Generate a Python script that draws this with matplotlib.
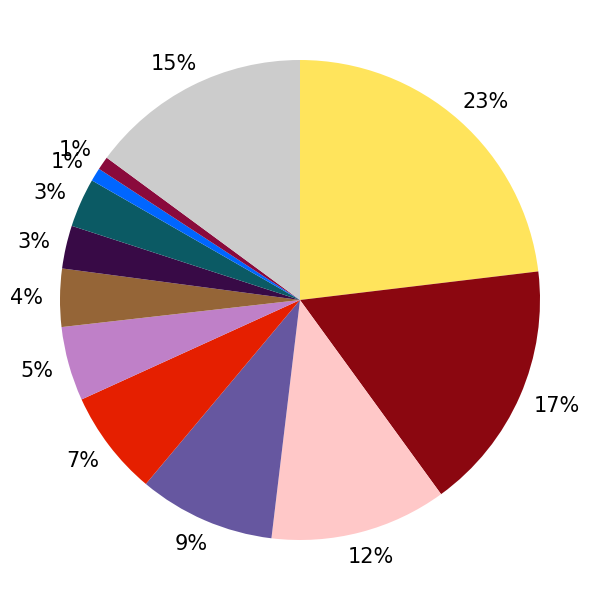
import matplotlib
matplotlib.use("Agg")
import matplotlib.pyplot as plt
import numpy as np

values = [23.1, 16.9, 11.9, 9.2, 7.1, 5.0, 3.9, 2.9, 3.3, 0.9, 0.9, 14.9]
colors = ["#FFE45C", "#8B0710", "#FFC8C8", "#6657A0", "#E51F00", "#BF80C8",
          "#956537", "#380A46", "#0B5A64", "#0066FF", "#8A0A3C", "#CCCCCC"]

fig = plt.figure(figsize=(6, 6), dpi=100)
ax = fig.add_axes([0, 0, 1, 1])
wedges, texts, autotexts = ax.pie(values, colors=colors, startangle=90, counterclock=False,
       autopct='%.0f%%', pctdistance=1.12,
       textprops={'fontsize': 15, 'color': 'black'},
       wedgeprops={'linewidth': 0})
ax.set_xlim(-1.25, 1.25)
ax.set_ylim(-1.25, 1.25)
ax.set_aspect('equal')
ax.axis('off')

fig.canvas.draw()
renderer = fig.canvas.get_renderer()
inv = ax.transData.inverted()
for w, t in zip(wedges, autotexts):
    bb = t.get_window_extent(renderer)
    (x0, y0), (x1, y1) = inv.transform([[bb.x0, bb.y0], [bb.x1, bb.y1]])
    tw, th = x1 - x0, (y1 - y0) * 0.8
    ang = np.deg2rad((w.theta1 + w.theta2) / 2)
    R = 1.07
    t.set_verticalalignment('center_baseline')
    t.set_position((R * np.cos(ang) + tw / 2 * np.cos(ang),
                    R * np.sin(ang) + th / 2 * np.sin(ang) + 0.006))
fig.savefig("out.png", dpi=100)
